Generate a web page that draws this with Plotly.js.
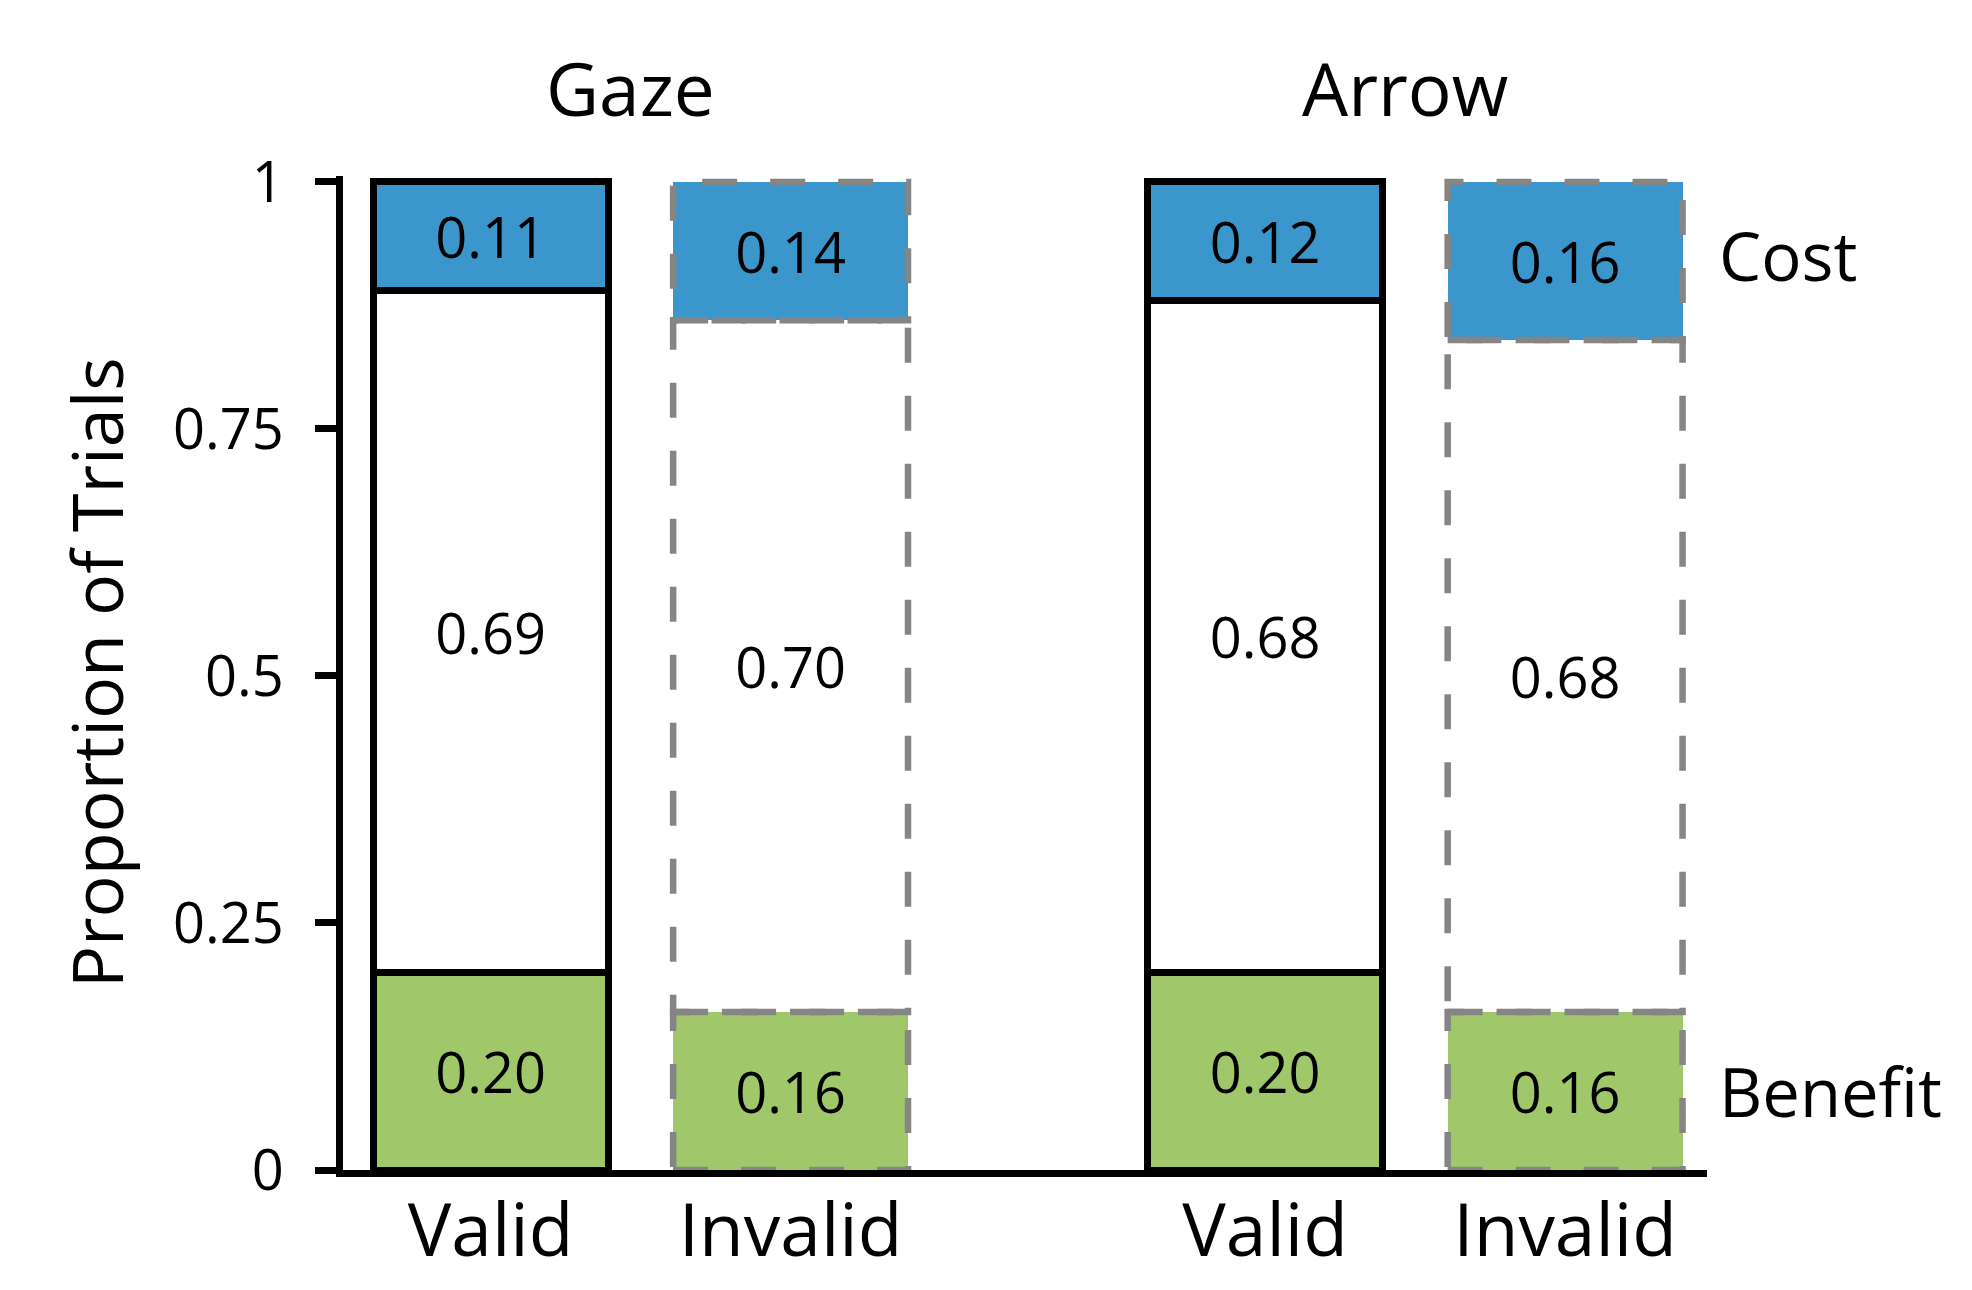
<!DOCTYPE html>
<html>
<head>
<meta charset="utf-8">
<script src="https://cdn.plot.ly/plotly-3.0.1.min.js"></script>
<style>
  html, body { margin: 0; padding: 0; background: #fff; }
  #chart { width: 1972px; height: 1290px; }
</style>
</head>
<body>
<div id="chart"></div>
<script>
// data
var cues = ['Gaze', 'Arrow'];
var conditions = ['Valid', 'Invalid', 'Valid', 'Invalid'];
var barCue = [0, 0, 1, 1];
var benefit = [0.20, 0.16, 0.20, 0.16];
var neutral = [0.69, 0.70, 0.68, 0.68];
var cost = [0.11, 0.14, 0.12, 0.16];
var yTicks = [0, 0.25, 0.5, 0.75, 1];
var yTickText = ['0', '0.25', '0.5', '0.75', '1'];

var FONT = '"Open Sans", "Noto Sans", sans-serif';
var BLUE = '#3a96cb';
var GREEN = '#a0c86a';
var GREY = '#858585';
var groupStep = 2.582;
var barW = 0.783;

// x position of each bar: index within group + group offset
var xpos = conditions.map(function (c, i) { return barCue[i] * groupStep + (i % 2); });
var isValid = conditions.map(function (c) { return c === 'Valid'; });

function fmt(arr) { return arr.map(function (v) { return v.toFixed(2); }); }

function seg(vals, color) {
  return {
    type: 'bar',
    x: xpos,
    y: vals,
    width: barW,
    text: fmt(vals),
    textposition: 'inside',
    insidetextanchor: 'middle',
    constraintext: 'none',
    textfont: {family: FONT, size: 56, color: '#000'},
    marker: {
      color: color,
      line: {color: '#000', width: isValid.map(function (v) { return v ? 7 : 0; })}
    },
    hoverinfo: 'skip',
    showlegend: false
  };
}

var data = [seg(benefit, GREEN), seg(neutral, '#ffffff'), seg(cost, BLUE)];

// dashed outlines for invalid bars (plotly bars have no dashed outline)
var shapes = [];
xpos.forEach(function (x, i) {
  if (isValid[i]) return;
  var base = 0;
  [benefit[i], neutral[i], cost[i]].forEach(function (v) {
    shapes.push({
      type: 'rect', xref: 'x', yref: 'y', layer: 'above',
      x0: x - barW / 2, x1: x + barW / 2, y0: base, y1: base + v,
      line: {color: GREY, width: 6.5, dash: '35px,33px'},
      fillcolor: 'rgba(0,0,0,0)'
    });
    base += v;
  });
});

var annotations = [];
cues.forEach(function (c, g) {
  annotations.push({
    text: c, xref: 'x', yref: 'paper', x: g * groupStep + 0.467, y: 1.089,
    xanchor: 'center', yanchor: 'middle', showarrow: false,
    font: {family: FONT, size: 73, color: '#000'}
  });
});
var last = xpos.length - 1;
annotations.push({
  text: 'Cost', xref: 'paper', yref: 'y', x: 1.007, y: 1 - cost[last] / 2 + 0.006,
  xanchor: 'left', yanchor: 'middle', showarrow: false,
  font: {family: FONT, size: 67, color: '#000'}
});
annotations.push({
  text: 'Benefit', xref: 'paper', yref: 'y', x: 1.007, y: benefit[last] / 2,
  xanchor: 'left', yanchor: 'middle', showarrow: false,
  font: {family: FONT, size: 67, color: '#000'}
});
annotations.push({
  text: 'Proportion of Trials', xref: 'paper', yref: 'paper', x: -0.181, y: 0.5,
  xanchor: 'center', yanchor: 'middle', textangle: -90, showarrow: false,
  font: {family: FONT, size: 70, color: '#000'}
});

var layout = {
  width: 1972,
  height: 1290,
  margin: {l: 343, r: 265, t: 176, b: 120},
  paper_bgcolor: '#fff',
  plot_bgcolor: '#fff',
  barmode: 'stack',
  font: {family: FONT, color: '#000'},
  xaxis: {
    range: [-0.492, 4.055],
    tickvals: xpos,
    ticktext: conditions,
    ticks: '',
    ticklabelstandoff: -9,
    tickfont: {family: FONT, size: 73, color: '#000'},
    showline: true, linecolor: '#000', linewidth: 7,
    showgrid: false, zeroline: false, fixedrange: true
  },
  yaxis: {
    range: [0, 1.006],
    tickvals: yTicks,
    ticktext: yTickText,
    ticks: 'outside', ticklen: 21, tickwidth: 7, tickcolor: '#000',
    ticklabelstandoff: 20,
    tickfont: {family: FONT, size: 56, color: '#000'},
    showline: true, linecolor: '#000', linewidth: 7,
    showgrid: false, zeroline: false, fixedrange: true
  },
  shapes: shapes,
  annotations: annotations
};

Plotly.newPlot('chart', data, layout, {displayModeBar: false, staticPlot: true});
</script>
</body>
</html>
